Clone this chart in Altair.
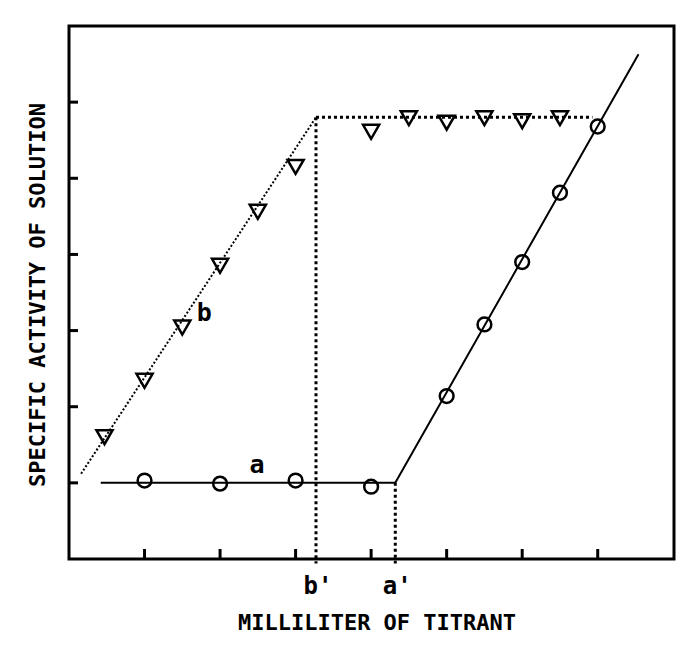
import altair as alt
import pandas as pd

# Curve a (circles): activity stays flat, then rises after the end point a'
a_x = [1, 2, 3, 4, 5, 5.5, 6, 6.5, 7]
a_y = [1.03, 0.99, 1.03, 0.95, 2.14, 3.08, 3.90, 4.81, 5.68]

# Curve b (triangles): activity rises, then levels off after b'
b_x = [0.47, 1, 1.5, 2, 2.5, 3, 4, 4.5, 5, 5.5, 6, 6.5]
b_y = [1.60, 2.34, 3.04, 3.85, 4.56, 5.15, 5.61, 5.79, 5.73, 5.79, 5.75, 5.79]

# Fitted lines
a_line_x = [0.42, 4.32, 7.54]
a_line_y = [1.0, 1.0, 6.63]
b_rise_x = [0.16, 3.27]
b_rise_y = [1.12, 5.80]
b_flat_x = [3.27, 6.93]
b_flat_y = [5.80, 5.80]

# End points dropped to the axis
end_names = ["b'", "a'"]
end_x = [3.27, 4.32]
end_top = [5.80, 1.0]
end_bottom = [-0.06, -0.06]

# Curve labels
curve_names = ["b", "a"]
curve_lx = [1.79, 2.49]
curve_ly = [3.23, 1.23]

x_ticks = [1, 2, 3, 4, 5, 6, 7]
y_ticks = [1, 2, 3, 4, 5, 6]

X_TITLE = "MILLILITER OF TITRANT"
Y_TITLE = "SPECIFIC ACTIVITY OF SOLUTION"

W, H = 605, 533
FONT = "DejaVu Sans Mono"

xs = alt.Scale(domain=[0, 8.01], nice=False, zero=False)
ys = alt.Scale(domain=[0, 7], nice=False, zero=False)


def X(field="x"):
    return alt.X(f"{field}:Q", scale=xs, axis=None)


def Y(field="y"):
    return alt.Y(f"{field}:Q", scale=ys, axis=None)


line_a = alt.Chart(pd.DataFrame({"x": a_line_x, "y": a_line_y, "o": range(3)})).mark_line(
    color="black", strokeWidth=2
).encode(x=X(), y=Y(), order="o:Q")

line_b_rise = alt.Chart(pd.DataFrame({"x": b_rise_x, "y": b_rise_y})).mark_line(
    color="black", strokeWidth=2, strokeDash=[2, 2]
).encode(x=X(), y=Y())

line_b_flat = alt.Chart(pd.DataFrame({"x": b_flat_x, "y": b_flat_y})).mark_line(
    color="black", strokeWidth=3, strokeDash=[3, 3]
).encode(x=X(), y=Y())

drops = alt.Chart(
    pd.DataFrame({"x": end_x, "y": end_top, "y2": end_bottom})
).mark_rule(color="black", strokeWidth=3, strokeDash=[3, 3]).encode(
    x=X(), y=Y(), y2="y2:Q"
)

pts_a = alt.Chart(pd.DataFrame({"x": a_x, "y": a_y})).mark_point(
    shape="circle", size=190, filled=False, color="black", strokeWidth=2.5, opacity=1
).encode(x=X(), y=Y())

pts_b = alt.Chart(pd.DataFrame({"x": b_x, "y": b_y})).mark_point(
    shape="triangle-down", size=260, filled=False, color="black", strokeWidth=2.5, opacity=1
).encode(x=X(), y=Y())

xtick = alt.Chart(pd.DataFrame({"x": x_ticks})).mark_rule(
    color="black", strokeWidth=3
).encode(x=X(), y=alt.value(H), y2=alt.value(H - 10))

ytick = alt.Chart(pd.DataFrame({"y": y_ticks})).mark_rule(
    color="black", strokeWidth=3
).encode(y=Y(), x=alt.value(0), x2=alt.value(9))

text_style = dict(font=FONT, fontWeight="bold", color="black", baseline="middle", align="center")

curve_labels = alt.Chart(
    pd.DataFrame({"x": curve_lx, "y": curve_ly, "t": curve_names})
).mark_text(fontSize=25, **text_style).encode(x=X(), y=Y(), text="t:N")

end_labels = alt.Chart(pd.DataFrame({"x": end_x, "t": end_names})).mark_text(
    fontSize=24, dx=2, **text_style
).encode(x=X(), y=alt.value(561), text="t:N")

x_title = alt.Chart(pd.DataFrame({"t": [X_TITLE]})).mark_text(
    fontSize=22, **text_style
).encode(text="t:N", x=alt.value(308), y=alt.value(597))

y_title = alt.Chart(pd.DataFrame({"t": [Y_TITLE]})).mark_text(
    fontSize=22, angle=270, **text_style
).encode(text="t:N", x=alt.value(-31), y=alt.value(269))

chart = (
    alt.layer(
        line_a, line_b_rise, line_b_flat, drops, pts_a, pts_b,
        xtick, ytick, curve_labels, end_labels, x_title, y_title,
    )
    .properties(
        width=W,
        height=H,
        autosize=alt.AutoSizeParams(type="none"),
        padding={"left": 69, "top": 26, "right": 8, "bottom": 86},
        background="white",
    )
    .configure_view(stroke="black", strokeWidth=3)
)

chart.save("out.html", embed_options={"renderer": "svg", "actions": False})
